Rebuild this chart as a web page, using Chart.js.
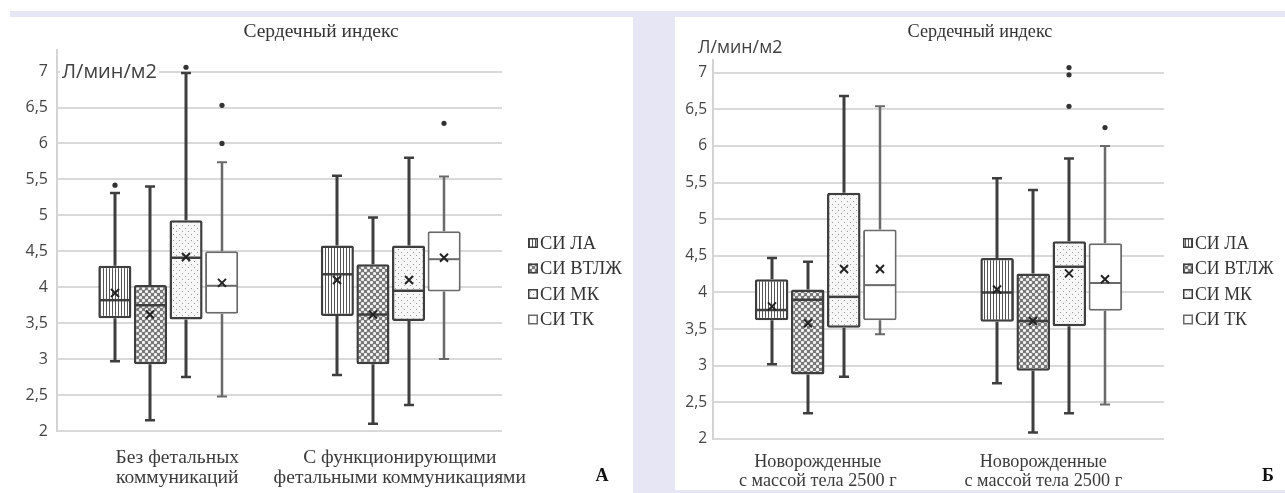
<!DOCTYPE html>
<html lang="ru">
<head>
<meta charset="utf-8">
<title>Сердечный индекс</title>
<script src="https://cdn.jsdelivr.net/npm/chart.js@4.4.1/dist/chart.umd.min.js"></script>
<style>
  html, body { margin: 0; padding: 0; background: #fff; }
  body { width: 1285px; height: 493px; position: relative; overflow: hidden; }
  .band { position: absolute; background: #e7e6f4; }
  canvas { position: absolute; }
</style>
</head>
<body>
<div class="band" style="left:10px;top:11px;width:1275px;height:6px"></div>
<div class="band" style="left:633px;top:11px;width:42px;height:482px"></div>
<div class="band" style="left:675px;top:490px;width:610px;height:3px"></div>
<canvas id="chartA" width="623" height="476" style="left:10px;top:17px"></canvas>
<canvas id="chartB" width="610" height="473" style="left:675px;top:17px"></canvas>

<script>
const seriesNames = ["СИ ЛА", "СИ ВТЛЖ", "СИ МК", "СИ ТК"];
const yTickValues = [2, 2.5, 3, 3.5, 4, 4.5, 5, 5.5, 6, 6.5, 7];

// panel A - rows are series, columns are the two groups
const categoriesA = [["Без фетальных", "коммуникаций"], ["С функционирующими", "фетальными коммуникациями"]];
const minA    = [[2.97, 2.78], [2.15, 2.10], [2.75, 2.36], [2.48, 3.00]];
const q1A     = [[3.57, 3.60], [2.93, 2.93], [3.55, 3.53], [3.63, 3.94]];
const medianA = [[3.82, 4.18], [3.75, 3.62], [4.41, 3.95], [4.02, 4.39]];
const q3A     = [[4.30, 4.58], [4.03, 4.32], [4.93, 4.58], [4.50, 4.78]];
const maxA    = [[5.31, 5.55], [5.40, 4.97], [6.98, 5.80], [5.74, 5.54]];
const meanA   = [[3.92, 4.10], [3.62, 3.62], [4.42, 4.10], [4.06, 4.41]];
const outliersA = [[[5.42], []], [[], []], [[7.06], []], [[6.53, 6.00], [6.28]]];

// panel Б
const categoriesB = [["Новорожденные", "с массой тела 2500 г"], ["Новорожденные", "с массой тела 2500 г"]];
const minB    = [[3.02, 2.76], [2.35, 2.09], [2.85, 2.35], [3.43, 2.47]];
const q1B     = [[3.62, 3.60], [2.88, 2.93], [3.52, 3.54], [3.62, 3.75]];
const medianB = [[3.76, 4.00], [3.90, 3.61], [3.94, 4.35], [4.10, 4.13]];
const q3B     = [[4.18, 4.47], [4.04, 4.26], [5.36, 4.70], [4.86, 4.67]];
const maxB    = [[4.47, 5.56], [4.42, 5.40], [6.68, 5.83], [6.54, 6.00]];
const meanB   = [[3.81, 4.04], [3.58, 3.61], [4.32, 4.26], [4.32, 4.18]];
const outliersB = [[[], []], [[], []], [[], [7.07, 6.97, 6.54]], [[], [6.25]]];

// fill patterns for the boxes
function makePattern(kind) {
  const c = document.createElement("canvas");
  const g = c.getContext("2d");
  if (kind === "stripes") {
    c.width = 3; c.height = 3;
    g.fillStyle = "#fff"; g.fillRect(0, 0, 3, 3);
    g.fillStyle = "#555"; g.fillRect(0, 0, 1, 3);
  } else if (kind === "circles") {
    c.width = 6; c.height = 6;
    g.fillStyle = "#787878"; g.fillRect(0, 0, 6, 6);
    g.fillStyle = "#f4f4f4";
    [[1.5, 1.5], [4.5, 4.5]].forEach(([x, y]) => {
      g.beginPath(); g.arc(x, y, 1.6, 0, Math.PI * 2); g.fill();
    });
  } else if (kind === "dots") {
    c.width = 6; c.height = 6;
    g.fillStyle = "#f7f7f7"; g.fillRect(0, 0, 6, 6);
    g.fillStyle = "#9a9a9a";
    g.fillRect(1, 1, 1, 1); g.fillRect(4, 4, 1, 1);
  } else {
    c.width = 2; c.height = 2;
    g.fillStyle = "#fff"; g.fillRect(0, 0, 2, 2);
  }
  return g.createPattern(c, "repeat");
}

const fills = [makePattern("stripes"), makePattern("circles"), makePattern("dots"), makePattern("plain")];
const strokes = ["#3e3e3e", "#3e3e3e", "#3e3e3e", "#6a6a6a"];
const strokeWidths = [2.5, 2.5, 2.5, 2];

// whiskers, medians, means and outliers on top of the floating bars
const boxExtras = {
  id: "boxExtras",
  afterDatasetsDraw(chart, args, opts) {
    const { ctx } = chart;
    const y = chart.scales.y;
    chart.data.datasets.forEach((ds, s) => {
      const meta = chart.getDatasetMeta(s);
      meta.data.forEach((bar, i) => {
        const x = Math.round(bar.x);
        const half = bar.width / 2;
        ctx.save();
        ctx.strokeStyle = strokes[s];
        ctx.lineWidth = strokeWidths[s] + 0.5;
        ctx.lineCap = "butt";
        const yMin = y.getPixelForValue(opts.min[s][i]);
        const yMax = y.getPixelForValue(opts.max[s][i]);
        const yQ1 = y.getPixelForValue(opts.q1[s][i]);
        const yQ3 = y.getPixelForValue(opts.q3[s][i]);
        ctx.beginPath();
        ctx.moveTo(x, yQ3); ctx.lineTo(x, yMax);
        ctx.moveTo(x, yQ1); ctx.lineTo(x, yMin);
        ctx.stroke();
        ctx.lineWidth = strokeWidths[s];
        ctx.beginPath();
        ctx.moveTo(x - 5, yMax); ctx.lineTo(x + 5, yMax);
        ctx.moveTo(x - 5, yMin); ctx.lineTo(x + 5, yMin);
        ctx.stroke();
        // median
        const yMed = y.getPixelForValue(opts.median[s][i]);
        ctx.beginPath();
        ctx.moveTo(bar.x - half + 1, yMed); ctx.lineTo(bar.x + half - 1, yMed);
        ctx.stroke();
        // mean marker
        const yMean = y.getPixelForValue(opts.mean[s][i]);
        ctx.strokeStyle = "#222";
        ctx.lineWidth = 2;
        ctx.beginPath();
        ctx.moveTo(x - 4, yMean - 4); ctx.lineTo(x + 4, yMean + 4);
        ctx.moveTo(x - 4, yMean + 4); ctx.lineTo(x + 4, yMean - 4);
        ctx.stroke();
        // outliers
        ctx.fillStyle = "#333";
        opts.outliers[s][i].forEach(v => {
          ctx.beginPath();
          ctx.arc(x, y.getPixelForValue(v), 2.6, 0, Math.PI * 2);
          ctx.fill();
        });
        ctx.restore();
      });
    });
  }
};

// title, unit, legend and panel letter
const panelText = {
  id: "panelText",
  afterDraw(chart, args, opts) {
    const { ctx } = chart;
    ctx.save();
    ctx.textBaseline = "middle";
    ctx.fillStyle = "#333";
    ctx.textAlign = "center";
    ctx.font = opts.titleSize + "px 'Liberation Serif'";
    ctx.fillText(opts.title, opts.titleX, opts.titleY);

    ctx.textAlign = "left";
    ctx.font = opts.unitSize + "px 'Open Sans'";
    const w = ctx.measureText(opts.unit).width;
    ctx.fillStyle = "#fff";
    ctx.fillRect(opts.unitX - 2, opts.unitY - 11, w + 4, 22);
    ctx.fillStyle = "#404040";
    ctx.fillText(opts.unit, opts.unitX, opts.unitY);

    ctx.font = opts.legendSize + "px 'Liberation Serif'";
    chart.data.datasets.forEach((ds, s) => {
      const ly = opts.legendY + s * opts.legendGap;
      ctx.fillStyle = ds.backgroundColor;
      ctx.fillRect(opts.legendX, ly - 5, 10, 10);
      ctx.strokeStyle = strokes[s];
      ctx.lineWidth = 1.5;
      ctx.strokeRect(opts.legendX + 0.75, ly - 4.25, 8.5, 8.5);
      ctx.fillStyle = "#333";
      ctx.fillText(ds.label, opts.legendX + 12, ly + 1);
    });

    ctx.textAlign = "center";
    ctx.fillStyle = "#111";
    ctx.font = "bold 18px 'Liberation Serif'";
    ctx.fillText(opts.letter, opts.letterX, opts.letterY);
    ctx.restore();
  }
};

function commaTick(v) {
  return String(v).replace(".", ",");
}

function buildChart(id, cfg) {
  const ctx = document.getElementById(id).getContext("2d");
  return new Chart(ctx, {
    type: "bar",
    data: {
      labels: cfg.categories,
      datasets: seriesNames.map((name, s) => ({
        label: name,
        data: cfg.q1[s].map((v, i) => [v, cfg.q3[s][i]]),
        backgroundColor: fills[s],
        borderColor: strokes[s],
        borderWidth: strokeWidths[s],
        borderSkipped: false,
        borderRadius: 2,
        categoryPercentage: 0.64,
        barPercentage: 0.93
      }))
    },
    options: {
      responsive: false,
      animation: false,
      devicePixelRatio: 1,
      layout: { padding: { left: 0, right: cfg.padRight, top: cfg.padTop, bottom: 0 } },
      plugins: {
        legend: { display: false },
        tooltip: { enabled: false },
        boxExtras: {
          min: cfg.min, q1: cfg.q1, median: cfg.median, q3: cfg.q3,
          max: cfg.max, mean: cfg.mean, outliers: cfg.outliers
        },
        panelText: cfg.text
      },
      scales: {
        x: {
          grid: { display: false },
          border: { display: false },
          ticks: {
            color: "#3a3a3a",
            padding: cfg.xPad,
            labelOffset: cfg.xShift,
            maxRotation: 0,
            autoSkip: false,
            font: { family: "'Liberation Serif'", size: cfg.xSize, lineHeight: cfg.xLine }
          },
          afterFit: s => { s.height = cfg.xHeight; }
        },
        y: {
          min: 2,
          max: cfg.yMax,
          grid: { color: "#d9d9d9", lineWidth: 2, drawTicks: false },
          border: { color: "#d4d4d4", width: 2 },
          ticks: {
            color: "#444",
            padding: cfg.yPad,
            font: { family: "'Open Sans'", size: cfg.ySize },
            callback: commaTick
          },
          afterBuildTicks: s => { s.ticks = yTickValues.map(v => ({ value: v })); },
          afterFit: s => { s.width = cfg.yWidth; }
        }
      }
    },
    plugins: [boxExtras, panelText]
  });
}

buildChart("chartA", {
  categories: categoriesA,
  min: minA, q1: q1A, median: medianA, q3: q3A, max: maxA, mean: meanA, outliers: outliersA,
  yMax: 7.3, padTop: 33, padRight: 131, yWidth: 47, yPad: 9, ySize: 16,
  xHeight: 62, xPad: 9, xShift: 9, xSize: 19.5, xLine: 1.03,
  text: {
    title: "Сердечный индекс", titleX: 311, titleY: 15, titleSize: 19.5,
    unit: "Л/мин/м2", unitX: 52, unitY: 55, unitSize: 20,
    legendX: 518, legendY: 226, legendGap: 25.5, legendSize: 18.5,
    letter: "А", letterX: 592, letterY: 459
  }
});

buildChart("chartB", {
  categories: categoriesB,
  min: minB, q1: q1B, median: medianB, q3: q3B, max: maxB, mean: meanB, outliers: outliersB,
  yMax: 7.2, padTop: 41, padRight: 121, yWidth: 38, yPad: 6, ySize: 15.5,
  xHeight: 51, xPad: 5, xShift: -8, xSize: 18.2, xLine: 1.07,
  text: {
    title: "Сердечный индекс", titleX: 305, titleY: 15, titleSize: 18.2,
    unit: "Л/мин/м2", unitX: 23, unitY: 31, unitSize: 17.8,
    legendX: 508, legendY: 226, legendGap: 25.5, legendSize: 17.8,
    letter: "Б", letterX: 593, letterY: 459
  }
});
</script>
</body>
</html>
